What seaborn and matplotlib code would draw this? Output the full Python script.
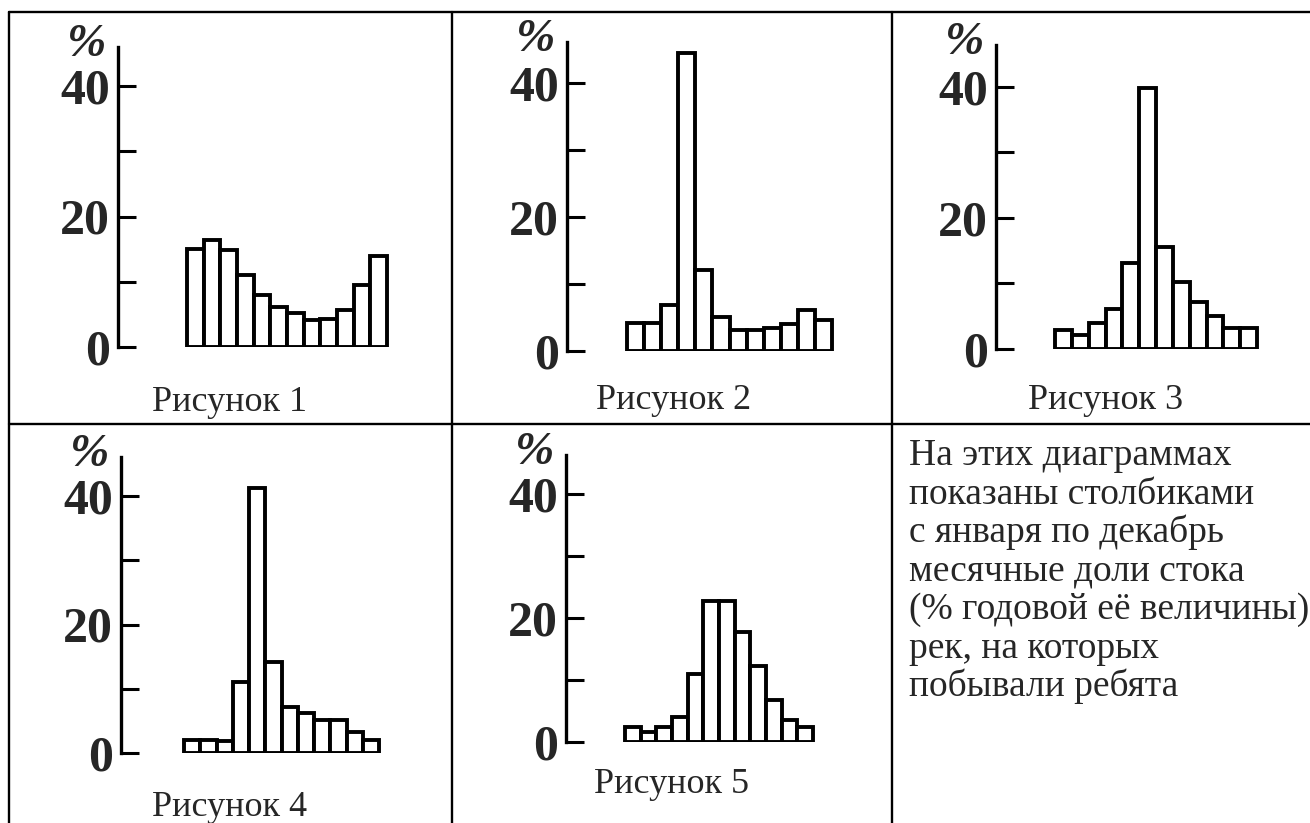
"""
Monthly runoff shares (% of annual) for five rivers, drawn as a 2x3 table
of outlined bar charts with a note in the last cell.
"""

import matplotlib
matplotlib.use("Agg")
import matplotlib.pyplot as plt
from matplotlib.lines import Line2D
import pandas as pd
import seaborn as sns

W, H = 1310, 823

MONTHS = list(range(1, 13))

FIG1 = [15.0, 16.4, 14.9, 11.1, 7.9, 6.2, 5.2, 4.1, 4.3, 5.7, 9.5, 13.9]
FIG2 = [4.2, 4.2, 6.9, 44.5, 12.1, 5.1, 3.1, 3.1, 3.4, 4.1, 6.1, 4.7]
FIG3 = [2.9, 2.1, 4.0, 6.1, 13.2, 39.9, 15.5, 10.3, 7.1, 5.1, 3.2, 3.2]
FIG4 = [2.0, 2.0, 1.8, 11.1, 41.2, 14.1, 7.2, 6.2, 5.1, 5.1, 3.3, 2.1]
FIG5 = [2.4, 1.6, 2.5, 4.0, 11.0, 22.8, 22.8, 17.8, 12.2, 6.7, 3.6, 2.4]

SERIES = [FIG1, FIG2, FIG3, FIG4, FIG5]
CAPTIONS = ["Рисунок 1", "Рисунок 2", "Рисунок 3", "Рисунок 4", "Рисунок 5"]

Y_TICKS = [0, 10, 20, 30, 40]
Y_TICK_LABELS = ["0", "", "20", "", "40"]

NOTE_LINES = [
    "На этих диаграммах",
    "показаны столбиками",
    "с января по декабрь",
    "месячные доли стока",
    "(% годовой её величины)",
    "рек, на которых",
    "побывали ребята",
]

# panel geometry in pixels:
# axis x, y of 0 tick, y of 40 tick, axis top, bars left, bars right, caption x, caption baseline
LAYOUT = [
    (118, 347, 86, 47, 187, 387, 230, 411),
    (567, 351, 83, 42, 627, 832, 674, 409),
    (996, 349, 87, 45, 1055, 1257, 1106, 409),
    (121, 753, 496, 457, 184, 379, 230, 816),
    (566, 742, 494, 455, 625, 813, 671, 793),
]

sns.set_style("white")
plt.rcParams["font.family"] = ["Liberation Serif", "DejaVu Serif"]

fig = plt.figure(figsize=(W / 100, H / 100), dpi=100)
fig.patch.set_facecolor("white")


def fx(x):
    return x / W


def fy(y):
    return 1 - y / H


for values, caption, geo in zip(SERIES, CAPTIONS, LAYOUT):
    ax_x, y0, y40, ytop, bl, br, cx, cy = geo
    right = br + 8
    ax = fig.add_axes([fx(ax_x), fy(y0), (right - ax_x) / W, (y0 - ytop) / H])
    ax.patch.set_visible(False)

    df = pd.DataFrame({"month": MONTHS, "share": values})
    sns.barplot(data=df, x="month", y="share", order=MONTHS, color="white",
                saturation=1, edgecolor="black", linewidth=2.8, width=1.0,
                errorbar=None, ax=ax)

    w = (br - bl) / 12
    ax.set_xlim(-0.5 - (bl - ax_x) / w, 11.5 + (right - br) / w)
    ax.set_ylim(0, 40 * (y0 - ytop) / (y0 - y40))

    sns.despine(ax=ax, bottom=True)
    ax.spines["left"].set_linewidth(2.4)
    ax.spines["left"].set_color("black")
    ax.set_xticks([])
    ax.set_yticks(Y_TICKS)
    ax.set_yticklabels(Y_TICK_LABELS, fontweight="bold", fontsize=36)
    ax.tick_params(axis="y", direction="in", length=13, width=2.2, pad=6,
                   left=True, color="black")
    ax.set_xlabel("")
    ax.set_ylabel("")

    fig.text(fx(ax_x - 31), fy(ytop - 2), "%", ha="center", va="center",
             fontsize=34, fontweight="bold", style="italic")
    fig.text(fx(cx), fy(cy), caption, ha="center", va="baseline", fontsize=26)

for i, line in enumerate(NOTE_LINES):
    fig.text(fx(909), fy(465 + i * 38.5), line, ha="left", va="baseline",
             fontsize=27)

# table grid
grid = [
    ((9, 12), (1310, 12)),
    ((9, 424), (1310, 424)),
    ((9, 12), (9, 823)),
    ((452, 12), (452, 823)),
    ((892, 12), (892, 823)),
]
for (x0, y0_), (x1, y1_) in grid:
    fig.add_artist(Line2D([fx(x0), fx(x1)], [fy(y0_), fy(y1_)],
                          transform=fig.transFigure, color="black", lw=1.7))

fig.savefig("out.png", dpi=100, facecolor="white")
